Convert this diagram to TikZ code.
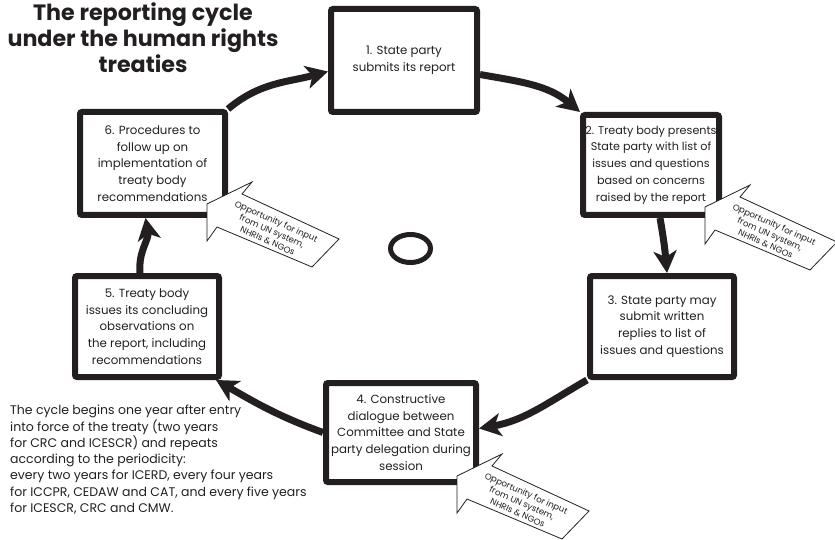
\documentclass[tikz,border=0pt]{standalone}
\usepackage{fontspec}
\setmainfont{Poppins}
\usetikzlibrary{arrows.meta}
\definecolor{ink}{RGB}{35,31,32}
\tikzset{
  stage/.style={draw=ink, line width=6pt, rounded corners=2pt, align=center, text=ink,
    font=\fontsize{11.8}{16.7}\selectfont, inner sep=0pt},
  cyc/.style={draw=ink, line width=7pt, -{Stealth[length=22pt,width=23pt,inset=6pt]}},
  inputarrow/.pic={
    \draw[ink, line width=0.8pt, fill=white] (0,0) -- (45,22) -- (35,10) -- (132,-35)
      -- (105,-63) -- (10,-23) -- (0,-37) -- cycle;
    \node[rotate=-24, align=center, text=ink, inner sep=0pt,
      font=\fontsize{8.6}{10.6}\selectfont] (-txt) at (65,-27)
      {Opportunity for input\\from UN system,\\NHRIs \& NGOs};
  }
}
\begin{document}
\begin{tikzpicture}[x=1pt, y=1pt]
\useasboundingbox (0,0) rectangle (835,539);
\node[align=center, text=ink, inner sep=0pt, font=\bfseries\fontsize{22.2}{26}\selectfont] (title) at (143,501)
  {The reporting cycle\\under the human rights\\treaties};
\node[stage, minimum width=146, minimum height=103] (b1) at (404,478.5) {1. State party\\submits its report};
\node[stage, minimum width=136, minimum height=100, font=\fontsize{11.2}{16.7}\selectfont] (b2) at (651,374) {2. Treaty body presents\\State party with list of\\issues and questions\\based on concerns\\raised by the report};
\node[stage, minimum width=144, minimum height=101] (b3) at (662,212.5) {3. State party may\\submit written\\replies to list of\\issues and questions};
\node[stage, minimum width=150, minimum height=99] (b4) at (401,106.5) {4. Constructive\\dialogue between\\Committee and State\\party delegation during\\session};
\node[stage, minimum width=144, minimum height=101] (b5) at (147,212.5) {5. Treaty body\\issues its concluding\\observations on\\the report, including\\recommendations};
\node[stage, minimum width=145, minimum height=103] (b6) at (152.5,375.5) {6. Procedures to\\follow up on\\implementation of\\treaty body\\recommendations};
\draw[cyc] (b6.north east) to[out=40,in=195] ([yshift=-11pt]b1.west);
\draw[cyc] ([yshift=-14pt]b1.east) to[out=-10,in=140] (b2.north west);
\draw[cyc] ([xshift=9pt]b2.south) to[out=-80,in=95] ([xshift=5pt]b3.north);
\draw[cyc] (b3.south west) to[out=210,in=10] ([yshift=4pt]b4.east);
\draw[cyc] (b4.west) to[out=160,in=-30] ([xshift=-6pt]b5.south east);
\draw[cyc] ([xshift=-7pt]b5.north) to[out=95,in=-80] ([xshift=-7pt]b6.south);
\draw[ink, line width=5pt] (410.5,290.5) ellipse [x radius=20, y radius=14];
\pic (c2) at (705,332) {inputarrow};
\pic (c6) at (207,335) {inputarrow};
\pic (c4) at (457,63) {inputarrow};
\node[anchor=north west, align=left, text=ink, inner sep=0pt, font=\fontsize{12.5}{16.3}\selectfont] (note) at (10,134)
  {The cycle begins one year after entry\\into force of the treaty (two years\\for CRC and ICESCR) and repeats\\according to the periodicity:\\every two years for ICERD, every four years\\for ICCPR, CEDAW and CAT, and every five years\\for ICESCR, CRC and CMW.};
\end{tikzpicture}
\end{document}
